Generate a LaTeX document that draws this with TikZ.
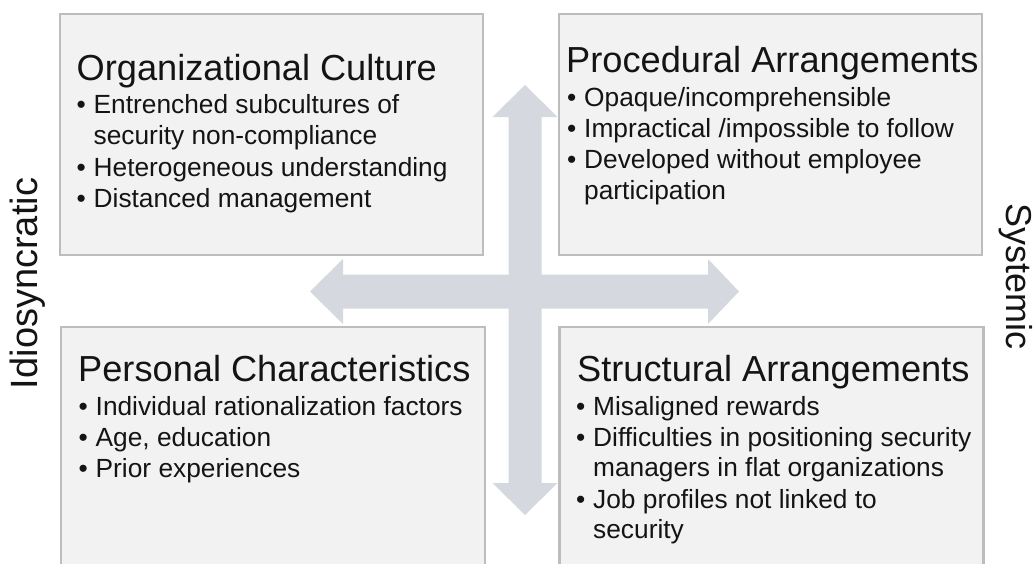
\documentclass[tikz,border=0pt]{standalone}
\usepackage{fontspec}
\setmainfont{Liberation Sans}
\definecolor{boxfill}{HTML}{F2F2F2}
\definecolor{boxline}{HTML}{BDBDBD}
\definecolor{crossfill}{HTML}{D5D9DF}
\definecolor{ink}{HTML}{141414}
\newcommand{\bul}[1]{\makebox[17pt][l]{•}#1}
\begin{document}
\begin{tikzpicture}[x=1pt,y=-1pt,
  quad/.style={draw=boxline, line width=2.5pt, fill=boxfill, rectangle,
    minimum width=423pt, minimum height=241pt, inner sep=0pt},
  heading/.style={anchor=base west, inner sep=0pt, text=ink,
    font=\fontsize{36.2}{43}\selectfont},
  entry/.style={anchor=base west, inner sep=0pt, text=ink,
    font=\fontsize{26.3}{31}\selectfont},
  axislabel/.style={anchor=base, inner sep=0pt, text=ink,
    font=\fontsize{36}{43}\selectfont}]
\clip (0,0) rectangle (1036,563);
\fill[white] (0,0) rectangle (1036,563);

% two-headed cross behind the quadrants
\fill[crossfill] (525,85) -- (557.5,117) -- (541.5,117) -- (541.5,483)
  -- (557.5,483) -- (525,515) -- (492.5,483) -- (508.5,483)
  -- (508.5,117) -- (492.5,117) -- cycle;
\fill[crossfill] (310,291.5) -- (343,259) -- (343,274.5) -- (708,274.5)
  -- (708,259) -- (739,291.5) -- (708,324) -- (708,308.5)
  -- (343,308.5) -- (343,324) -- cycle;

% quadrant boxes
\node[quad] (tl) at (271.5,134.5) {};
\node[quad] (tr) at (770.5,134.5) {};
\node[quad, minimum width=424pt] (bl) at (273,447.5) {};
\node[quad, minimum width=424pt] (br) at (771.5,447.5) {};

% Organizational Culture
\node[heading] (tl-h) at (76.5,80) {Organizational Culture};
\node[entry] (tl-1) at (76.5,113) {\bul{Entrenched subcultures of}};
\node[entry] (tl-1b) at (93.5,144) {security non-compliance};
\node[entry] (tl-2) at (76.5,176) {\bul{Heterogeneous understanding}};
\node[entry] (tl-3) at (76.5,207) {\bul{Distanced management}};

% Procedural Arrangements
\node[heading] (tr-h) at (566,72) {Procedural Arrangements};
\node[entry] (tr-1) at (567,106) {\bul{Opaque/incomprehensible}};
\node[entry] (tr-2) at (567,137) {\bul{Impractical /impossible to follow}};
\node[entry] (tr-3) at (567,168) {\bul{Developed without employee}};
\node[entry] (tr-3b) at (584,199) {participation};

% Personal Characteristics
\node[heading] (bl-h) at (78,381) {Personal Characteristics};
\node[entry] (bl-1) at (78.5,415) {\bul{Individual rationalization factors}};
\node[entry] (bl-2) at (78.5,446) {\bul{Age, education}};
\node[entry] (bl-3) at (78.5,477) {\bul{Prior experiences}};

% Structural Arrangements
\node[heading] (br-h) at (577,381) {Structural Arrangements};
\node[entry] (br-1) at (576,415) {\bul{Misaligned rewards}};
\node[entry] (br-2) at (576,446) {\bul{Difficulties in positioning security}};
\node[entry] (br-2b) at (593,476) {managers in flat organizations};
\node[entry] (br-3) at (576,508) {\bul{Job profiles not linked to}};
\node[entry] (br-3b) at (593,538) {security};

% axis labels
\node[axislabel, rotate=90, font=\fontsize{38}{45}\selectfont] (idio) at (37.5,283.5) {Idiosyncratic};
\node[axislabel, rotate=-90] (sys) at (1006,276.5) {Systemic};
\end{tikzpicture}
\end{document}
